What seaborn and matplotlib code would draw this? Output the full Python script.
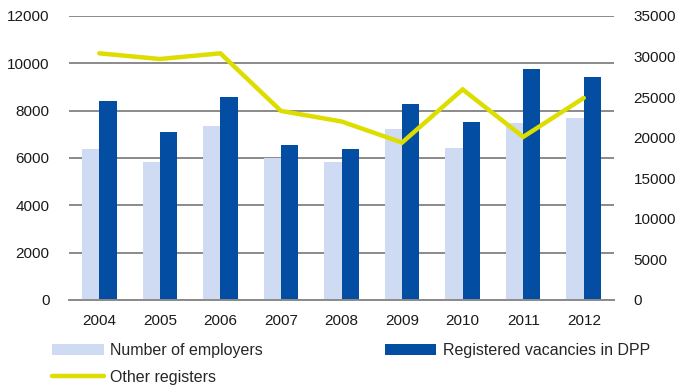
import numpy as np
import pandas as pd
import matplotlib
matplotlib.use("Agg")
import matplotlib.pyplot as plt
from matplotlib.patches import Patch
from matplotlib.lines import Line2D
from matplotlib.ticker import FixedLocator, MultipleLocator
import seaborn as sns

years = ["2004", "2005", "2006", "2007", "2008", "2009", "2010", "2011", "2012"]
employers = [6370, 5850, 7350, 6010, 5830, 7210, 6430, 7470, 7680]
vacancies = [8400, 7100, 8560, 6530, 6400, 8280, 7540, 9760, 9420]
other_registers = [30400, 29700, 30400, 23300, 22000, 19400, 25950, 20100, 24900]

series_names = ["Number of employers", "Registered vacancies in DPP", "Other registers"]
light_blue = "#cfdbf2"
dark_blue = "#034ea2"
yellow = "#dddd00"
grid_grey = "#8a8a8a"

sns.set_theme(style="white")
plt.rcParams["font.family"] = ["Liberation Sans", "DejaVu Sans"]
plt.rcParams["font.size"] = 11

bars = pd.DataFrame({
    "year": years * 2,
    "value": employers + vacancies,
    "series": [series_names[0]] * len(years) + [series_names[1]] * len(years),
})

fig = plt.figure(figsize=(6.77, 3.89), dpi=100)
ax = fig.add_axes([0.1019, 0.2288, 0.8051, 0.7301])

sns.barplot(data=bars, x="year", y="value", hue="series", order=years,
            hue_order=series_names[:2], palette=[light_blue, dark_blue],
            width=0.57, saturation=1, linewidth=0, legend=False, ax=ax)

ax.set_ylim(0, 12000)
ax.set_xlim(-0.5, len(years) - 0.5)
ax.yaxis.set_major_locator(MultipleLocator(2000))
ax.grid(axis="y", color=grid_grey, linewidth=1.4)
ax.set_axisbelow(True)
ax.set_xlabel("")
ax.set_ylabel("")
for side in ["left", "right", "top"]:
    ax.spines[side].set_visible(False)
ax.spines["bottom"].set_color(grid_grey)
ax.spines["bottom"].set_linewidth(1.4)
ax.tick_params(axis="y", length=0, pad=14, labelsize=11, labelcolor="#1a1a1a")
ax.tick_params(axis="x", which="major", length=0, pad=10, labelsize=11, labelcolor="#1a1a1a")
ax.xaxis.set_minor_locator(FixedLocator(np.arange(-0.5, len(years), 1.0)))
ax.tick_params(axis="x", which="minor", length=5, width=1.4, color=grid_grey, direction="out")

ax2 = ax.twinx()
sns.lineplot(x=np.arange(len(years)), y=other_registers, color=yellow,
             linewidth=3.2, ax=ax2, solid_joinstyle="miter")
ax2.set_ylim(0, 35000)
ax2.yaxis.set_major_locator(MultipleLocator(5000))
ax2.tick_params(axis="y", length=0, pad=14, labelsize=11, labelcolor="#1a1a1a")
for side in ["left", "right", "top", "bottom"]:
    ax2.spines[side].set_visible(False)
ax2.grid(False)
ax2.set_ylabel("")

handles = [
    Patch(facecolor=light_blue, edgecolor="none"),
    Line2D([0], [0], color=yellow, linewidth=3.2),
    Patch(facecolor=dark_blue, edgecolor="none"),
]
labels = [series_names[0], series_names[2], series_names[1]]
fig.legend(handles, labels, ncol=2, loc="upper left",
           bbox_to_anchor=(0.077, 0.118), frameon=False, fontsize=11.5,
           handlelength=3.25, handletextpad=0.4, columnspacing=7.6,
           labelspacing=0.72, borderaxespad=0, borderpad=0)

fig.savefig("out.png", dpi=100)
